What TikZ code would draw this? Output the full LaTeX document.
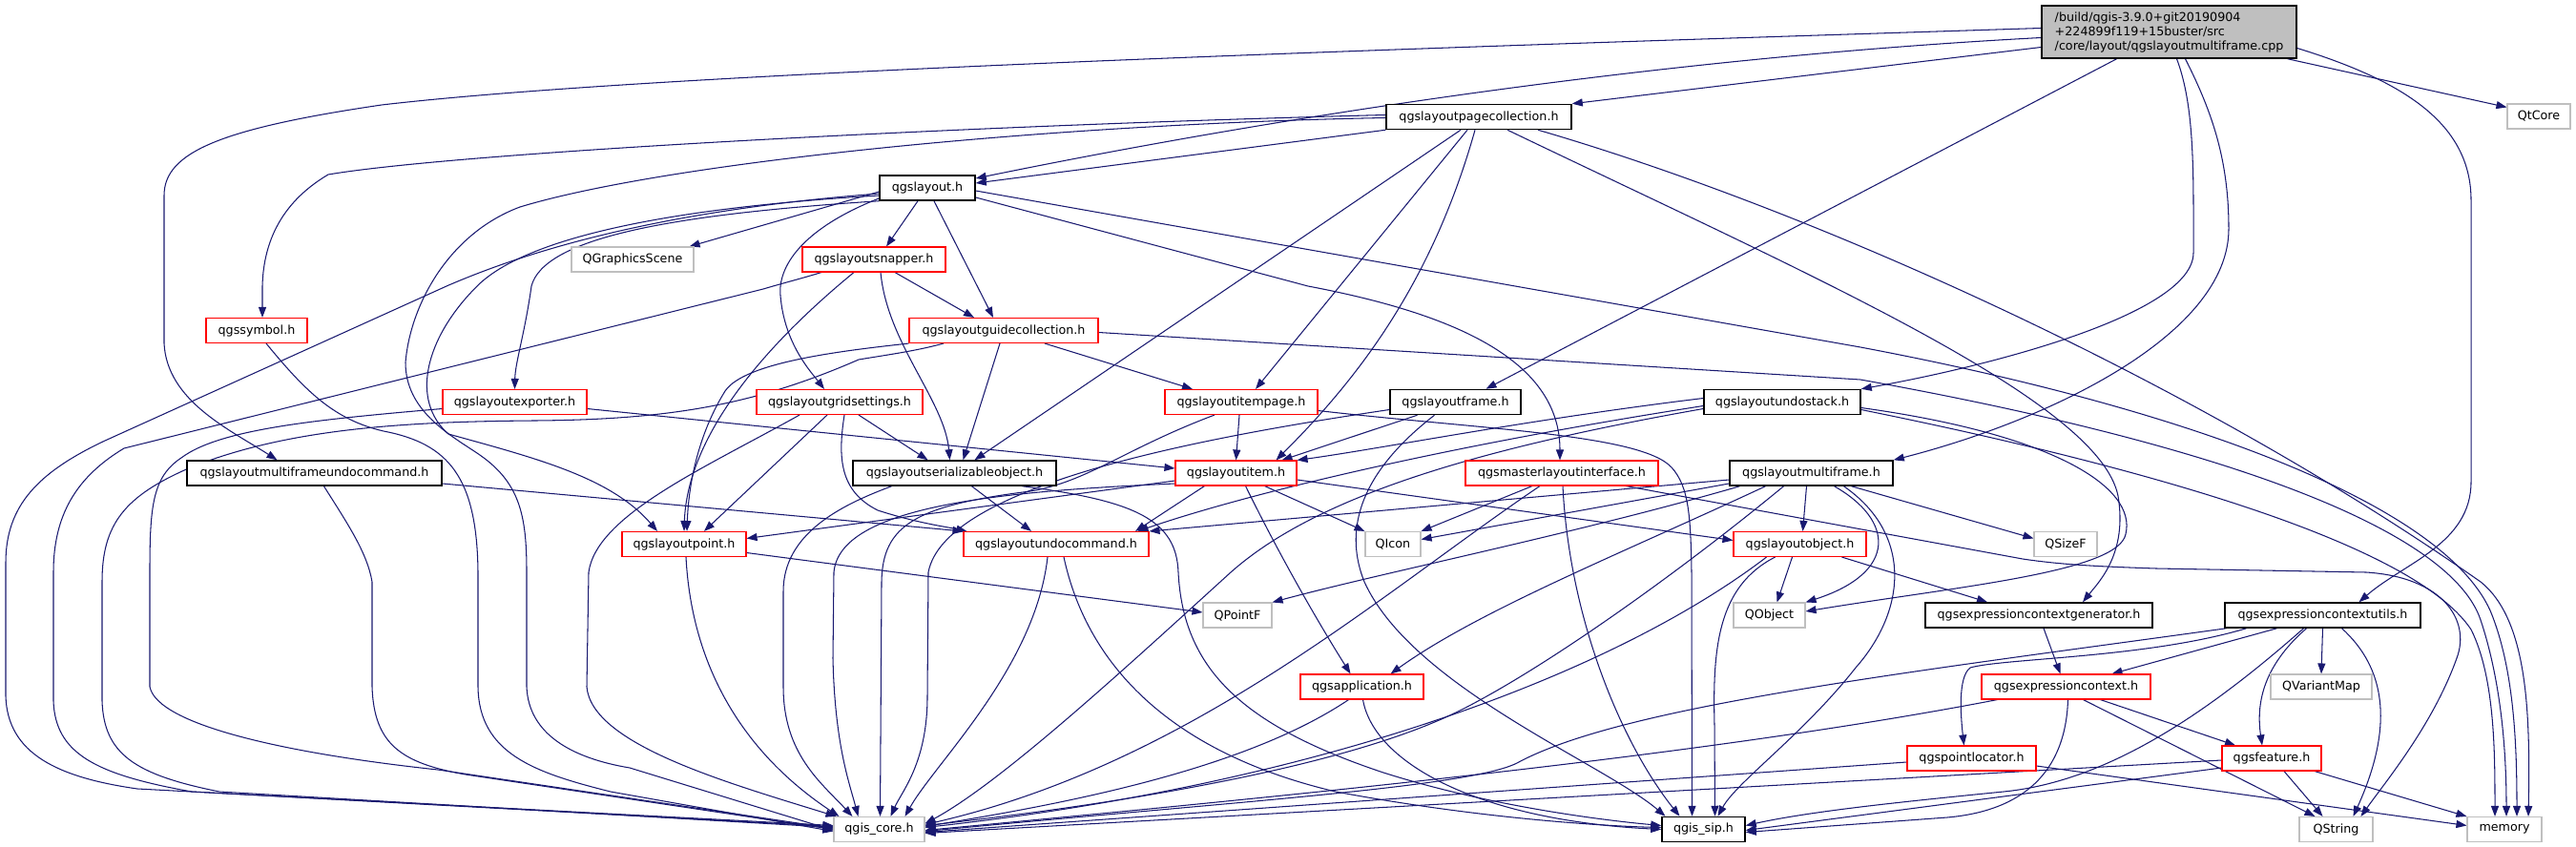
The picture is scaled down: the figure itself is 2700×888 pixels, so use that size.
\documentclass[tikz,border=0pt]{standalone}
\usepackage{fontspec}
\setmainfont{DejaVu Sans}
\usetikzlibrary{arrows.meta}
\definecolor{edgec}{HTML}{191970}
\definecolor{grayb}{HTML}{BFBFBF}
\pgfdeclarelayer{bg}
\pgfsetlayers{bg,main}
\begin{document}
\begin{tikzpicture}[x=1pt,y=-1pt,
  box/.style={draw, fill=white, line width=1.1pt, minimum height=26pt, inner sep=0pt, anchor=center,
    font=\fontsize{12.7}{15}\selectfont},
  kbox/.style={box, draw=black, line width=1.5pt},
  rbox/.style={box, draw=red},
  gbox/.style={box, draw=grayb},
  edg/.style={draw=edgec, line width=1.05pt, -{Triangle[length=11pt,width=8pt]}}
]
\begin{pgfonlayer}{bg}
\fill[white] (0,0) rectangle (2700,888);
\end{pgfonlayer}
\path[use as bounding box] (0,0) rectangle (2700,888);

% nodes
\node[kbox, fill=grayb, minimum width=267pt, minimum height=55pt, align=left] (M) at (2273.5,33.5)
  {/build/qgis-3.9.0+git20190904\\+224899f119+15buster/src\\/core/layout/qgslayoutmultiframe.cpp};
\node[gbox, minimum width=66pt]  (QtCore) at (2661,122) {QtCore};
\node[kbox, minimum width=194pt] (PC) at (1550,122.5) {qgslayoutpagecollection.h};
\node[kbox, minimum width=100pt] (L) at (972,197) {qgslayout.h};
\node[gbox, minimum width=128pt] (QGS) at (663,272) {QGraphicsScene};
\node[rbox, minimum width=150pt] (SNAP) at (916,272) {qgslayoutsnapper.h};
\node[rbox, minimum width=106pt] (SYM) at (269,346.5) {qgssymbol.h};
\node[rbox, minimum width=198pt] (GUIDE) at (1052,346.5) {qgslayoutguidecollection.h};
\node[rbox, minimum width=151pt] (EXP) at (539.5,421.5) {qgslayoutexporter.h};
\node[rbox, minimum width=174pt] (GRID) at (880,421.5) {qgslayoutgridsettings.h};
\node[rbox, minimum width=160pt] (IP) at (1301,421.5) {qgslayoutitempage.h};
\node[kbox, minimum width=137pt] (FR) at (1525.5,421.5) {qgslayoutframe.h};
\node[kbox, minimum width=164pt] (US) at (1868,421.5) {qgslayoutundostack.h};
\node[kbox, minimum width=267pt] (MUC) at (329.5,496) {qgslayoutmultiframeundocommand.h};
\node[kbox, minimum width=213pt] (SER) at (1000.5,496) {qgslayoutserializableobject.h};
\node[rbox, minimum width=127pt] (IT) at (1295.5,496) {qgslayoutitem.h};
\node[rbox, minimum width=202pt] (MAS) at (1637,496) {qgsmasterlayoutinterface.h};
\node[kbox, minimum width=171pt] (MF) at (1898.5,496) {qgslayoutmultiframe.h};
\node[rbox, minimum width=130pt] (PT) at (717,570.5) {qgslayoutpoint.h};
\node[rbox, minimum width=194pt] (UC) at (1107,570.5) {qgslayoutundocommand.h};
\node[gbox, minimum width=58pt]  (QIcon) at (1460,570.5) {QIcon};
\node[rbox, minimum width=139pt] (OBJ) at (1886.5,570.5) {qgslayoutobject.h};
\node[gbox, minimum width=66pt]  (QSizeF) at (2165,570.5) {QSizeF};
\node[gbox, minimum width=72pt]  (QPointF) at (1297,645) {QPointF};
\node[gbox, minimum width=75pt]  (QObject) at (1854.5,645) {QObject};
\node[kbox, minimum width=238pt] (ECG) at (2137,645) {qgsexpressioncontextgenerator.h};
\node[kbox, minimum width=205pt] (ECU) at (2434.5,645) {qgsexpressioncontextutils.h};
\node[rbox, minimum width=129pt] (APP) at (1427.5,720) {qgsapplication.h};
\node[rbox, minimum width=177pt] (EC) at (2165.5,720) {qgsexpressioncontext.h};
\node[gbox, minimum width=106pt] (QVM) at (2433,720) {QVariantMap};
\node[rbox, minimum width=135pt] (PL) at (2066.5,795) {qgspointlocator.h};
\node[rbox, minimum width=104pt] (FEAT) at (2381,795) {qgsfeature.h};
\node[gbox, minimum width=95pt]  (CORE) at (921.5,869.5) {qgis\_core.h};
\node[kbox, minimum width=87pt]  (SIP) at (1785.5,869.5) {qgis\_sip.h};
\node[gbox, minimum width=77pt]  (QString) at (2448.5,869.5) {QString};
\node[gbox, minimum width=78pt]  (memory) at (2625,869.5) {memory};

\begin{pgfonlayer}{bg}
% main
\draw[edg] ([yshift=-16]M.west) -- (PC.north east);
\draw[edg] ([yshift=-6]M.west) .. controls (1750,60) and (1350,120) .. ([yshift=10]L.east);
\draw[edg] ([yshift=4]M.west) .. controls (1500,50) and (700,75) .. (400,110) .. controls (230,135) and (172,160) .. (172,205) -- (172,360) .. controls (175,420) and (240,450) .. ([xshift=-39]MUC.north);
\draw[edg] ([xshift=-10]M.south east) -- ([yshift=-4]QtCore.north west);
\draw[edg] ([xshift=-55]M.south) -- ([xshift=32]FR.north);
\draw[edg] ([xshift=8]M.south) .. controls (2296,100) and (2299,150) .. (2299,220) -- (2299,265) .. controls (2299,330) and (2080,385) .. (US.north east);
\draw[edg] ([xshift=17]M.south) .. controls (2320,120) and (2336,170) .. (2336,240) .. controls (2336,350) and (2150,440) .. (MF.north east);
\draw[edg] ([yshift=-17]M.east) .. controls (2520,85) and (2590,130) .. (2590,210) -- (2590,505) .. controls (2590,570) and (2520,590) .. ([xshift=38]ECU.north);
% pagecollection
\draw[edg] (PC.south west) -- ([yshift=5]L.east);
\draw[edg] ([yshift=2]PC.west) .. controls (1000,132) and (480,160) .. (344,183) .. controls (290,215) and (276,260) .. (275,300) -- ([xshift=6]SYM.north);
\draw[edg] ([yshift=-1]PC.west) .. controls (1100,130) and (700,170) .. (545,217) .. controls (470,245) and (430,320) .. (425,380) .. controls (425,430) and (470,455) .. (500,475) .. controls (545,505) and (552,540) .. (552,600) -- (552,720) .. controls (554,770) and (600,795) .. (660,805) -- ([yshift=-1]CORE.west);
\draw[edg] ([xshift=-19]PC.south) -- ([xshift=21]SER.north);
\draw[edg] ([xshift=-12]PC.south) -- ([xshift=15]IP.north);
\draw[edg] ([xshift=-4]PC.south) .. controls (1500,300) and (1420,400) .. ([xshift=42]IT.north);
\draw[edg] ([xshift=30]PC.south) .. controls (1900,290) and (2200,420) .. (2220,520) .. controls (2230,580) and (2200,610) .. ([xshift=46]ECG.north);
\draw[edg] ([xshift=62]PC.south) .. controls (1900,220) and (2300,400) .. (2600,610) .. controls (2650,650) and (2652,750) .. ([xshift=25]memory.north);
% qgslayout.h
\draw[edg] ([yshift=-4]L.west) -- ([xshift=-5]QGS.north east);
\draw[edg] ([xshift=-10]L.south) -- ([xshift=13]SNAP.north);
\draw[edg] ([xshift=7]L.south) -- ([xshift=-11]GUIDE.north);
\draw[edg] ([yshift=-11]L.west) .. controls (840,240) and (815,280) .. (818,310) .. controls (822,360) and (850,390) .. ([xshift=-16]GRID.north);
\draw[edg] (L.south west) .. controls (700,225) and (570,250) .. (557,300) .. controls (550,350) and (540,380) .. (EXP.north);
\draw[edg] ([yshift=-6]L.west) .. controls (700,220) and (560,260) .. (468,300) -- (110,462) .. controls (40,495) and (6,530) .. (6,590) -- (6,730) .. controls (8,790) and (60,815) .. (144,827) -- ([yshift=4]CORE.west);
\draw[edg] ([yshift=-8]L.west) .. controls (750,215) and (560,240) .. (500,300) .. controls (445,355) and (430,420) .. (470,455) .. controls (560,480) and (640,500) .. ([xshift=-28]PT.north);
\draw[edg] ([yshift=-10]L.east) -- (1371,300) .. controls (1530,330) and (1635,380) .. ([xshift=-2]MAS.north);
\draw[edg] ([yshift=-3]L.east) -- (1950,364) .. controls (2300,430) and (2560,530) .. (2610,640) .. controls (2635,700) and (2638,780) .. ([xshift=13]memory.north);
% snapper
\draw[edg] ([xshift=22]SNAP.south) -- ([xshift=-31]GUIDE.north);
\draw[edg] ([xshift=7]SNAP.south) .. controls (930,360) and (990,420) .. ([xshift=-5]SER.north);
\draw[edg] ([xshift=-21]SNAP.south) .. controls (780,380) and (720,470) .. (PT.north);
\draw[edg] ([xshift=-55]SNAP.south) .. controls (840,292) and (820,297) .. (800,303) -- (130,470) .. controls (80,500) and (56,540) .. (56,600) -- (56,735) .. controls (58,790) and (100,812) .. (201,830) -- ([yshift=3]CORE.west);
% guidecollection
\draw[edg] ([xshift=-63]GUIDE.south) .. controls (960,368) and (930,372) .. (900,377) .. controls (790,425) and (700,440) .. (560,441) .. controls (420,442) and (300,450) .. (200,490) .. controls (130,520) and (107,550) .. (107,610) -- (107,735) .. controls (109,790) and (140,812) .. (230,830) -- ([yshift=2]CORE.west);
\draw[edg] (GUIDE.south west) .. controls (880,368) and (780,380) .. (760,410) .. controls (735,450) and (722,500) .. ([xshift=3]PT.north);
\draw[edg] ([xshift=-4]GUIDE.south) -- ([xshift=9]SER.north);
\draw[edg] ([xshift=43]GUIDE.south) -- ([xshift=-51]IP.north);
\draw[edg] ([yshift=-2]GUIDE.east) -- (1950,398) .. controls (2350,470) and (2570,560) .. (2600,650) .. controls (2620,710) and (2627,780) .. ([xshift=2]memory.north);
% gridsettings
\draw[edg] ([xshift=20]GRID.south) -- ([xshift=-28]SER.north);
\draw[edg] ([xshift=-13]GRID.south) -- ([xshift=21]PT.north);
\draw[edg] ([xshift=5]GRID.south) .. controls (878,480) and (880,515) .. (920,535) .. controls (960,548) and (990,552) .. ([xshift=4]UC.north west);
\draw[edg] ([xshift=-42]GRID.south) .. controls (740,490) and (625,540) .. (617,600) -- (615,720) .. controls (620,780) and (760,820) .. ([xshift=-45]CORE.north);
% exporter
\draw[edg] ([yshift=-7]EXP.east) -- ([yshift=5]IT.west);
\draw[edg] ([yshift=-7]EXP.west) .. controls (330,440) and (230,450) .. (190,480) .. controls (160,500) and (157,530) .. (157,600) -- (157,720) .. controls (165,760) and (300,790) .. (459,807) -- ([yshift=1]CORE.west);
% multiframeundocommand
\draw[edg] ([yshift=-11]MUC.east) -- (UC.north west);
\draw[edg] ([xshift=10]MUC.south) .. controls (365,550) and (385,580) .. (390,610) -- (390,720) .. controls (392,780) and (420,800) .. (488,812) -- (CORE.west);
% symbol
\draw[edg] ([xshift=10]SYM.south) .. controls (320,410) and (350,440) .. (402,452) .. controls (470,465) and (500,500) .. (501,600) -- (501,720) .. controls (502,790) and (560,810) .. (640,830) -- ([yshift=-2]CORE.west);
% point
\draw[edg] ([yshift=-9]PT.east) -- ([yshift=3]QPointF.west);
\draw[edg] ([xshift=2]PT.south) .. controls (725,700) and (780,790) .. ([xshift=-42]CORE.north);
% serializable
\draw[edg] ([xshift=18]SER.south) -- ([xshift=-26]UC.north);
\draw[edg] ([xshift=-66]SER.south) .. controls (880,530) and (821,560) .. (821,620) -- (821,720) .. controls (821,790) and (860,820) .. ([xshift=-28]CORE.north);
\draw[edg] ([xshift=71]SER.south) .. controls (1190,525) and (1233,545) .. (1235,600) .. controls (1240,700) and (1300,760) .. (1450,810) .. controls (1560,845) and (1680,860) .. ([yshift=4]SIP.west);
% item
\draw[edg] ([yshift=-8]IT.west) -- ([yshift=6]PT.east);
\draw[edg] ([yshift=-11]IT.west) .. controls (1050,515) and (880,530) .. (874,600) -- (873,690) .. controls (875,780) and (890,820) .. ([xshift=-22]CORE.north);
\draw[edg] ([xshift=-33]IT.south) -- ([xshift=83]UC.north);
\draw[edg] ([xshift=30]IT.south) -- (QIcon.north west);
\draw[edg] ([xshift=10]IT.south) .. controls (1340,580) and (1380,650) .. ([xshift=-12]APP.north);
\draw[edg] ([yshift=-7]IT.east) -- ([yshift=4]OBJ.west);
% itempage
\draw[edg] ([xshift=-2]IP.south) -- (IT.north);
\draw[edg] ([xshift=-28]IP.south) .. controls (1180,470) and (1140,505) .. (1080,515) .. controls (960,530) and (925,550) .. (924,610) -- ([xshift=1]CORE.north);
\draw[edg] ([yshift=-9]IP.east) .. controls (1550,450) and (1720,455) .. (1752,490) .. controls (1770,510) and (1772,540) .. (1773,600) -- ([xshift=-12]SIP.north);
% frame
\draw[edg] ([xshift=-40]FR.south) -- ([xshift=48]IT.north);
\draw[edg] ([xshift=-22]FR.south) .. controls (1420,500) and (1410,560) .. (1430,610) .. controls (1480,720) and (1680,800) .. ([xshift=-40]SIP.north);
\draw[edg] ([yshift=-8]FR.west) .. controls (1250,460) and (990,510) .. (973,600) -- (972,730) .. controls (972,800) and (945,830) .. ([xshift=12]CORE.north);
% undostack
\draw[edg] ([yshift=4]US.west) .. controls (1600,440) and (1450,470) .. (IT.north east);
\draw[edg] ([yshift=-4]US.west) .. controls (1500,470) and (1300,520) .. ([xshift=-12]UC.north east);
\draw[edg] ([yshift=-7]US.west) .. controls (1550,470) and (1380,520) .. (1290,600) .. controls (1180,700) and (1050,820) .. ([yshift=6]CORE.east);
\draw[edg] ([yshift=-6]US.east) .. controls (2150,455) and (2240,510) .. (2228,560) .. controls (2220,600) and (2050,615) .. ([yshift=4]QObject.east);
\draw[edg] ([yshift=-8]US.east) .. controls (2250,490) and (2530,570) .. (2590,660) .. controls (2615,710) and (2615,790) .. ([xshift=-10]memory.north);
% master
\draw[edg] ([xshift=-31]MAS.south) -- (QIcon.north east);
\draw[edg] ([xshift=-23]MAS.south) .. controls (1450,620) and (1250,800) .. ([yshift=5]CORE.east);
\draw[edg] ([xshift=1]MAS.south) .. controls (1645,650) and (1700,780) .. ([xshift=-25]SIP.north);
\draw[edg] ([xshift=67]MAS.south) -- (2120,586) .. controls (2160,592) and (2200,594) .. (2260,596) -- (2480,600) .. controls (2560,605) and (2590,650) .. (2575,690) .. controls (2550,760) and (2500,820) .. ([xshift=26]QString.north);
% multiframe
\draw[edg] ([xshift=-5]MF.south) -- ([xshift=3]OBJ.north);
\draw[edg] ([xshift=42]MF.south) -- ([yshift=6]QSizeF.west);
\draw[edg] ([xshift=24]MF.south) .. controls (1985,545) and (1990,600) .. (QObject.north east);
\draw[edg] ([xshift=34]MF.south) .. controls (2005,560) and (1998,640) .. (1945,700) .. controls (1890,770) and (1820,820) .. ([xshift=15]SIP.north);
\draw[edg] ([yshift=-7]MF.west) -- (UC.north east);
\draw[edg] ([yshift=-11]MF.west) -- ([yshift=5]QIcon.east);
\draw[edg] ([xshift=-75]MF.south) .. controls (1650,560) and (1450,600) .. (QPointF.north east);
\draw[edg] ([xshift=-48]MF.south) .. controls (1700,580) and (1550,640) .. ([xshift=30]APP.north);
\draw[edg] ([xshift=-29]MF.south) .. controls (1760,600) and (1620,700) .. (1530,745) .. controls (1420,800) and (1200,840) .. ([yshift=4]CORE.east);
% layoutobject
\draw[edg] ([xshift=-8]OBJ.south) -- ([xshift=8]QObject.north);
\draw[edg] ([xshift=44]OBJ.south) -- ([xshift=-54]ECG.north);
\draw[edg] ([xshift=-26]OBJ.south) .. controls (1800,615) and (1795,680) .. (1797,760) -- ([xshift=12]SIP.north);
\draw[edg] ([xshift=-35]OBJ.south) .. controls (1700,700) and (1400,820) .. ([yshift=2]CORE.east);
% application
\draw[edg] ([xshift=-14]APP.south) .. controls (1300,810) and (1100,845) .. ([yshift=3]CORE.east);
\draw[edg] ([xshift=1]APP.south) .. controls (1440,800) and (1550,860) .. (SIP.west);
% undocommand
\draw[edg] ([xshift=-9]UC.south) .. controls (1085,700) and (980,800) .. ([xshift=27]CORE.north);
\draw[edg] ([xshift=8]UC.south) .. controls (1140,700) and (1230,790) .. (1400,830) .. controls (1550,858) and (1680,866) .. ([yshift=2]SIP.west);
% expression context family
\draw[edg] ([xshift=5]ECG.south) -- ([xshift=-6]EC.north);
\draw[edg] ([xshift=-48]ECU.south) -- ([xshift=48]EC.north);
\draw[edg] (ECU.south) -- (QVM.north);
\draw[edg] ([xshift=-17]ECU.south) .. controls (2370,700) and (2365,740) .. ([xshift=-10]FEAT.north);
\draw[edg] ([xshift=-80]ECU.south) .. controls (2250,690) and (2100,690) .. (2065,700) .. controls (2052,710) and (2055,750) .. ([xshift=-8]PL.north);
\draw[edg] ([xshift=-101]ECU.south) .. controls (2000,705) and (1700,740) .. (1590,800) .. controls (1540,825) and (1300,840) .. ([yshift=-2]CORE.east);
\draw[edg] ([xshift=-20]ECU.south) .. controls (2300,760) and (2200,820) .. (2100,830) .. controls (2000,840) and (1900,850) .. ([yshift=4]SIP.east);
\draw[edg] ([xshift=20]ECU.south) .. controls (2500,700) and (2510,760) .. ([xshift=18]QString.north);
\draw[edg] ([xshift=-72]EC.south) .. controls (1800,790) and (1400,830) .. ([yshift=-1]CORE.east);
\draw[edg] ([xshift=2]EC.south) .. controls (2165,810) and (2120,850) .. (2041,857) -- ([yshift=-3]SIP.east);
\draw[edg] ([xshift=18]EC.south) -- ([xshift=-22]QString.north);
\draw[edg] ([xshift=36]EC.south) -- ([xshift=-38]FEAT.north);
\draw[edg] ([yshift=-4]PL.west) -- ([yshift=-3]CORE.east);
\draw[edg] ([yshift=-8]PL.east) -- ([yshift=4]memory.west);
\draw[edg] ([xshift=45]FEAT.south) -- (memory.north west);
\draw[edg] ([yshift=-2]FEAT.west) -- ([yshift=-4]CORE.east);
\draw[edg] ([yshift=-10]FEAT.west) -- ([yshift=-1]SIP.east);
\draw[edg] ([xshift=13]FEAT.south) -- ([xshift=-14]QString.north);
\end{pgfonlayer}
\end{tikzpicture}
\end{document}
